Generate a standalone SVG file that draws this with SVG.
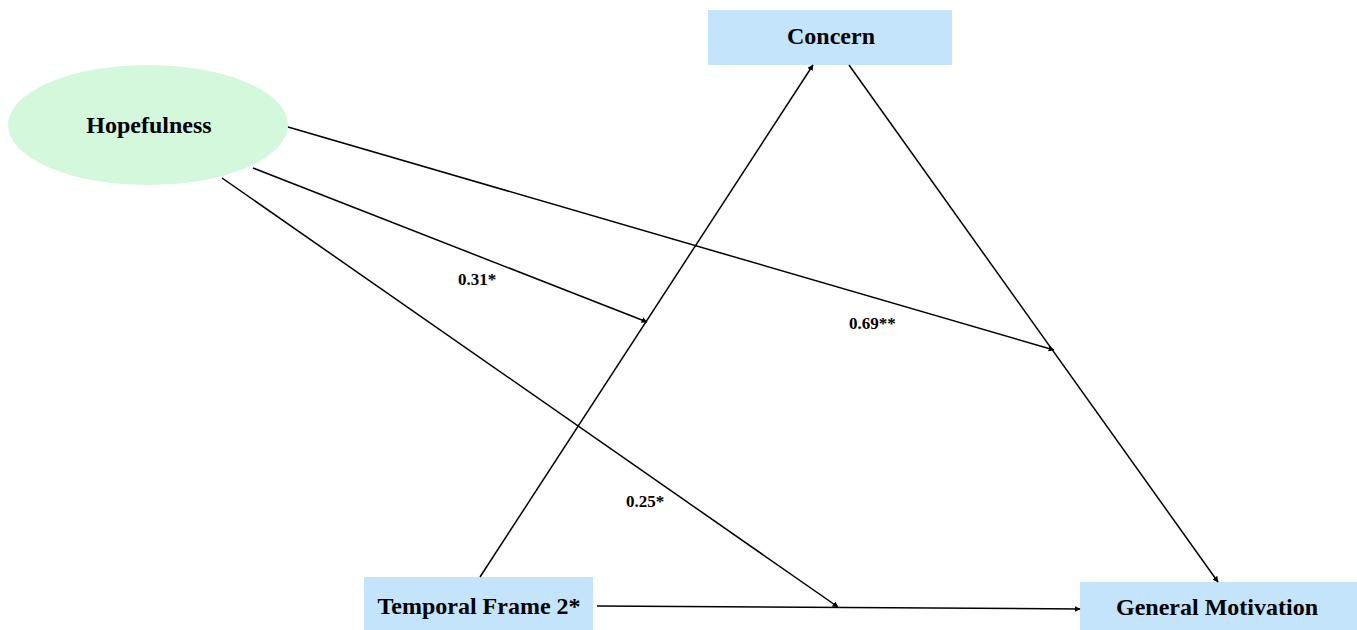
<svg xmlns="http://www.w3.org/2000/svg" width="1357" height="630" viewBox="0 0 1357 630">
<defs>
<marker id="arr" viewBox="0 0 10 10" refX="9" refY="5" markerWidth="6" markerHeight="6" markerUnits="userSpaceOnUse" orient="auto">
<path d="M0,0 L10,5 L0,10 z" fill="#000"/>
</marker>
<style>
.box{fill:#c4e4fc;}
.ell{fill:#d3f8db;}
.node{font-family:"Liberation Serif","Times New Roman",serif;font-weight:bold;font-size:24px;fill:#000;text-anchor:middle;}
.lbl{font-family:"Liberation Serif","Times New Roman",serif;font-weight:bold;font-size:17px;fill:#000;}
.edge{stroke:#000;stroke-width:1.5;fill:none;marker-end:url(#arr);}
</style>
</defs>
<rect width="1357" height="630" fill="#fff"/>
<g id="hopefulness">
<ellipse class="ell" cx="148" cy="125" rx="140" ry="60"/>
<text class="node" x="149" y="133">Hopefulness</text>
</g>
<g id="concern">
<rect class="box" x="708" y="10" width="244" height="55"/>
<text class="node" x="831" y="44">Concern</text>
</g>
<g id="temporal-frame">
<rect class="box" x="364" y="577" width="229" height="53"/>
<text class="node" x="479" y="614">Temporal Frame 2*</text>
</g>
<g id="general-motivation">
<rect class="box" x="1080" y="582" width="277" height="48"/>
<text class="node" x="1217" y="615">General Motivation</text>
</g>
<g id="connectors">
<line class="edge" x1="480" y1="577" x2="813" y2="65"/>
<line class="edge" x1="849" y1="65" x2="1218" y2="582"/>
<line class="edge" x1="288" y1="127" x2="1054" y2="350"/>
<line class="edge" x1="253" y1="168" x2="647" y2="322"/>
<line class="edge" x1="222" y1="178" x2="838" y2="607"/>
<line class="edge" x1="597" y1="606" x2="1080" y2="609"/>
</g>
<g id="labels">
<text class="lbl" x="458" y="285">0.31*</text>
<text class="lbl" x="849" y="329">0.69**</text>
<text class="lbl" x="626" y="507">0.25*</text>
</g>
</svg>
